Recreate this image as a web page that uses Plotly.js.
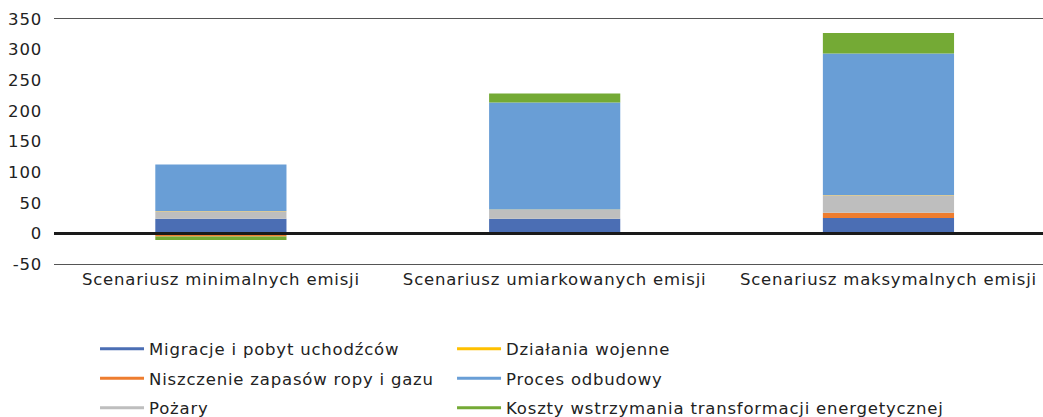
<!DOCTYPE html>
<html>
<head>
<meta charset="utf-8">
<script src="https://cdn.plot.ly/plotly-3.0.1.min.js"></script>
<style>
html,body{margin:0;padding:0;background:#fff;}
#chart{width:1043px;height:417px;}
#chart svg text{letter-spacing:0.8px;}
#chart .scrollbox{clip-path:none !important;}
#chart g[class^="legend"]{clip-path:none !important;}
</style>
</head>
<body>
<div id="chart"></div>
<script>
const categories = ["Scenariusz minimalnych emisji", "Scenariusz umiarkowanych emisji", "Scenariusz maksymalnych emisji"];
const seriesNames = ["Migracje i pobyt uchodźców", "Niszczenie zapasów ropy i gazu", "Pożary", "Działania wojenne", "Proces odbudowy", "Koszty wstrzymania transformacji energetycznej"];
const migracje = [24, 24, 25];
const niszczenie = [-5, 0, 8.7];
const pozary = [12, 14.6, 28.5];
const dzialania = [0.5, 0.5, 0.5];
const odbudowa = [76, 174.5, 231];
const koszty = [-6, 14.6, 33.5];
const yTicks = [-50, 0, 50, 100, 150, 200, 250, 300, 350];

const colors = ["#4B6EB4", "#EE7D2F", "#BEBEBE", "#FFC000", "#699ED6", "#74AA35"];
const values = [migracje, niszczenie, pozary, dzialania, odbudowa, koszty];
const legendOf = ["legend", "legend", "legend", "legend2", "legend2", "legend2"];
const FONT = "DejaVu Sans, sans-serif";
const FS = 16.5;

const traces = [];
values.forEach((v, i) => {
  traces.push({
    type: "bar", x: categories, y: v, name: seriesNames[i],
    marker: {color: colors[i], line: {width: 0}},
    showlegend: false, hoverinfo: "skip"
  });
});
values.forEach((v, i) => {
  traces.push({
    type: "scatter", mode: "lines", x: [null], y: [null], name: seriesNames[i],
    line: {color: colors[i], width: 3},
    legend: legendOf[i], legendgroup: "g" + i, showlegend: true, hoverinfo: "skip"
  });
});

const legendBase = {
  orientation: "v", xref: "container", yref: "container", xanchor: "left", yanchor: "top",
  font: {family: FONT, size: FS, color: "#222"}, bgcolor: "rgba(0,0,0,0)",
  traceorder: "grouped", tracegroupgap: 5, itemwidth: 44
};

const layout = {
  width: 1043, height: 417,
  margin: {l: 53.5, r: 0, t: 19, b: 153, autoexpand: false},
  paper_bgcolor: "#fff", plot_bgcolor: "#fff",
  barmode: "relative", bargap: 0.607,
  font: {family: FONT, size: FS, color: "#222"},
  xaxis: {
    type: "category", range: [-0.5, 2.463], tickangle: 0, automargin: false,
    showline: true, mirror: true, linecolor: "#555", linewidth: 1,
    showgrid: false, zeroline: false, ticks: "", tickfont: {family: FONT, size: FS, color: "#222"},
    fixedrange: true
  },
  yaxis: {
    range: [-50, 350], tickvals: yTicks, ticktext: yTicks.map(String), automargin: false,
    showgrid: false, zeroline: false, showline: false, ticks: "",
    tickfont: {family: FONT, size: FS, color: "#222"}, ticklabelstandoff: 11,
    fixedrange: true
  },
  shapes: [{
    type: "line", xref: "paper", x0: 0, x1: 1, yref: "y", y0: 0, y1: 0,
    line: {color: "#1a1a1a", width: 3}, layer: "above"
  }],
  showlegend: true,
  legend: Object.assign({}, legendBase, {x: 0.0911, y: 0.2048}),
  legend2: Object.assign({}, legendBase, {x: 0.4334, y: 0.2048})
};

Plotly.newPlot("chart", traces, layout, {displayModeBar: false, staticPlot: true});
</script>
</body>
</html>
